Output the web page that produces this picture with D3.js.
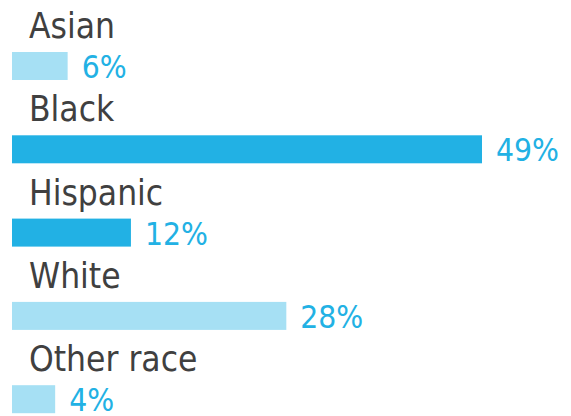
<!DOCTYPE html>
<html>
<head>
<meta charset="utf-8">
<script src="https://cdn.jsdelivr.net/npm/d3@7"></script>
<style>
  body { margin: 0; background: #fff; }
  text { font-family: "DejaVu Sans Condensed", "DejaVu Sans", sans-serif; }
</style>
</head>
<body>
<svg id="chart"></svg>
<script>
// data
const categories = ['Asian', 'Black', 'Hispanic', 'White', 'Other race'];
const shares = [5.8, 49, 12.4, 28.6, 4.5];       // bar lengths
const shareLabels = ['6%', '49%', '12%', '28%', '4%'];
const highlight = [false, true, true, false, false];

const WIDTH = 571, HEIGHT = 416;
const LEFT = 12, TOP = 52, ROW = 83.3, BAR_H = 28;

const svg = d3.select('#chart')
    .attr('width', WIDTH)
    .attr('height', HEIGHT);

const x = d3.scaleLinear()
    .domain([0, 49])
    .range([0, 470]);

const y = d3.scaleBand()
    .domain(categories)
    .range([TOP, TOP + ROW * categories.length])
    .paddingInner(0)
    .paddingOuter(0);

const rows = svg.selectAll('g.row')
    .data(categories.map((c, i) => ({ name: c, value: shares[i], label: shareLabels[i], hot: highlight[i] })))
    .join('g')
    .attr('class', 'row')
    .attr('transform', d => `translate(${LEFT},${y(d.name)})`);

rows.append('rect')
    .attr('x', 0)
    .attr('y', 0)
    .attr('width', d => x(d.value))
    .attr('height', BAR_H)
    .attr('fill', d => d.hot ? '#22b1e4' : '#a6e0f4');

rows.append('text')
    .attr('x', d => x(d.value) + 14)
    .attr('y', BAR_H - 2)
    .attr('fill', '#22b1e4')
    .style('font-size', '31.5px')
    .text(d => d.label);

rows.append('text')
    .attr('x', 17)
    .attr('y', -14)
    .attr('fill', '#404040')
    .style('font-size', '35px')
    .text(d => d.name);
</script>
</body>
</html>
